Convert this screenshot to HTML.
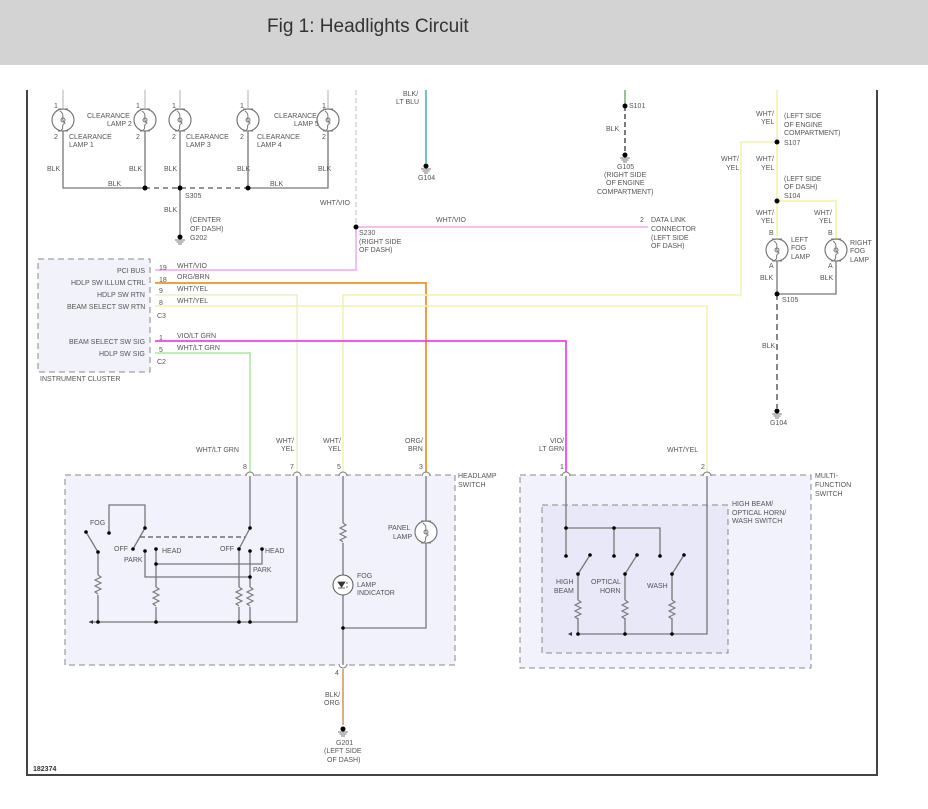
<!DOCTYPE html>
<html><head><meta charset="utf-8"><style>
html,body{margin:0;padding:0;background:#fff;width:928px;height:809px;overflow:hidden}
svg{display:block}
text{font-family:"Liberation Sans",sans-serif;font-size:7px;fill:#555}
.w{fill:none;stroke:#777;stroke-width:1.3}
.d{fill:#000}
</style></head><body>
<svg width="928" height="809" viewBox="0 0 928 809" xmlns="http://www.w3.org/2000/svg">
<defs>
<g id="lamp"><circle r="11" fill="#fff" stroke="#777" stroke-width="1.2"/><path d="M-3,-9 C3,-5 -3,0 2,3 C-3,6 2,8 -2,10" fill="none" stroke="#777"/><circle r="2" fill="none" stroke="#777"/><path d="M-5,-11 h10 M-5,11 h10" stroke="#777"/></g>
<g id="gnd"><circle r="2.5" fill="#000"/><path d="M-5,3 h10 M-3.5,5 h7 M-2,7 h4" stroke="#777"/></g>
<path id="res" d="M0,0 l3,2 l-6,3 l6,3 l-6,3 l6,3 l-6,3 l3,2" fill="none" stroke="#777" stroke-width="1.1"/>
</defs>
<rect x="0" y="0" width="928" height="65" fill="#d3d3d3"/>
<text x="267" y="32" style="font-size:19px;fill:#333">Fig 1: Headlights Circuit</text>
<path d="M27,90 V775 H877 V90" fill="none" stroke="#444" stroke-width="2"/>
<text x="33" y="771" style="font-size:7px;fill:#333;font-weight:bold">182374</text>

<!-- boxes -->
<rect x="38" y="259" width="112" height="113" fill="#f2f2fb" stroke="#888" stroke-dasharray="6,4"/>
<rect x="65" y="475" width="390" height="190" fill="#f2f2fc" stroke="#888" stroke-dasharray="6,4"/>
<rect x="520" y="475" width="291" height="193" fill="#f2f2fc" stroke="#888" stroke-dasharray="6,4"/>
<rect x="542" y="505" width="186" height="148" fill="#e8e8f8" stroke="#888" stroke-dasharray="6,4"/>

<!-- clearance lamps -->
<g stroke="#ccc" stroke-width="1.5"><path d="M63,90V108M145,90V108M180,90V108M248,90V108M328,90V108"/></g>
<g class="w"><path d="M63,131V188H145M145,131V188M180,131V237M248,131V188M248,188H328V131"/></g>
<path d="M145,188H248" stroke="#555" stroke-width="1.3" stroke-dasharray="5,4"/>
<use href="#lamp" x="63" y="120"/><use href="#lamp" x="145" y="120"/><use href="#lamp" x="180" y="120"/><use href="#lamp" x="248" y="120"/><use href="#lamp" x="328" y="120"/>
<circle class="d" cx="145" cy="188" r="2.5"/><circle class="d" cx="180" cy="188" r="2.5"/><circle class="d" cx="248" cy="188" r="2.5"/>
<use href="#gnd" x="180" y="237"/>
<text x="54" y="108">1</text><text x="54" y="139">2</text><text x="69" y="139">CLEARANCE</text><text x="69" y="147">LAMP 1</text>
<text x="87" y="118">CLEARANCE</text><text x="107" y="126">LAMP 2</text><text x="136" y="108">1</text><text x="136" y="139">2</text>
<text x="172" y="108">1</text><text x="172" y="139">2</text><text x="186" y="139">CLEARANCE</text><text x="186" y="147">LAMP 3</text>
<text x="240" y="108">1</text><text x="240" y="139">2</text><text x="257" y="139">CLEARANCE</text><text x="257" y="147">LAMP 4</text>
<text x="274" y="118">CLEARANCE</text><text x="294" y="126">LAMP 5</text><text x="322" y="108">1</text><text x="322" y="139">2</text>
<text x="47" y="171">BLK</text><text x="129" y="171">BLK</text><text x="164" y="171">BLK</text><text x="237" y="171">BLK</text><text x="318" y="171">BLK</text>
<text x="108" y="186">BLK</text><text x="270" y="186">BLK</text><text x="185" y="198">S305</text><text x="164" y="212">BLK</text>
<text x="190" y="222">(CENTER</text><text x="190" y="231">OF DASH)</text><text x="190" y="240">G202</text>

<!-- S230 / pink -->
<path d="M356,90V227" stroke="#ccc" stroke-width="1.3" stroke-dasharray="5,3"/>
<path d="M356,227H648M356,227V270H155" fill="none" stroke="#f0a8ee" stroke-width="1.5"/>
<circle class="d" cx="356" cy="227" r="2.5"/>
<text x="320" y="205">WHT/VIO</text><text x="359" y="235">S230</text><text x="359" y="244">(RIGHT SIDE</text><text x="359" y="252">OF DASH)</text>
<text x="436" y="222">WHT/VIO</text><text x="640" y="222">2</text><text x="651" y="222">DATA LINK</text><text x="651" y="231">CONNECTOR</text><text x="651" y="240">(LEFT SIDE</text><text x="651" y="248">OF DASH)</text>

<!-- teal G104 -->
<path d="M426,90V163" stroke="#4aacaa" stroke-width="1.5"/><use href="#gnd" x="426" y="166"/>
<text x="403" y="96">BLK/</text><text x="396" y="104">LT BLU</text><text x="418" y="180">G104</text>
<!-- S101 -->
<path d="M625,90V106" stroke="#6a9a6a" stroke-width="1.3"/><path d="M625,106V158" stroke="#333" stroke-width="1.3" stroke-dasharray="5,3"/>
<circle class="d" cx="625" cy="106" r="2.5"/><use href="#gnd" x="625" y="155"/>
<text x="629" y="108">S101</text><text x="606" y="131">BLK</text><text x="617" y="169">G105</text><text x="604" y="177">(RIGHT SIDE</text><text x="606" y="185">OF ENGINE</text><text x="597" y="194">COMPARTMENT)</text>

<!-- cluster wires -->
<path d="M155,283H426V475" fill="none" stroke="#f0a040" stroke-width="2"/>
<path d="M155,295H297V475" fill="none" stroke="#eeeec8" stroke-width="1.5"/>
<path d="M343,475V295H741V142H777" fill="none" stroke="#f2f2b0" stroke-width="1.5"/>
<path d="M155,306H707V475" fill="none" stroke="#f2f2b0" stroke-width="1.5"/>
<path d="M155,341H566V475" fill="none" stroke="#f020f0" stroke-width="1.5"/>
<path d="M155,353H250V475" fill="none" stroke="#a8e898" stroke-width="1.5"/>
<g style="font-size:6.5px"><text x="117" y="273">PCI BUS</text><text x="71" y="285">HDLP SW ILLUM CTRL</text><text x="97" y="297">HDLP SW RTN</text><text x="67" y="309">BEAM SELECT SW RTN</text>
<text x="69" y="344">BEAM SELECT SW SIG</text><text x="99" y="356">HDLP SW SIG</text><text x="40" y="381">INSTRUMENT CLUSTER</text>
<text x="159" y="270">19</text><text x="159" y="282">18</text><text x="159" y="293">9</text><text x="159" y="305">8</text><text x="157" y="318">C3</text>
<text x="159" y="340">1</text><text x="159" y="352">5</text><text x="157" y="364">C2</text>
<text x="177" y="268">WHT/VIO</text><text x="177" y="279">ORG/BRN</text><text x="177" y="291">WHT/YEL</text><text x="177" y="303">WHT/YEL</text>
<text x="177" y="338">VIO/LT GRN</text><text x="177" y="350">WHT/LT GRN</text></g>

<!-- right fog side -->
<path d="M777,90V236M777,201H836V239" fill="none" stroke="#f2f2a0" stroke-width="1.5"/>
<use href="#lamp" x="777" y="250"/><use href="#lamp" x="836" y="250"/>
<path d="M777,261V294H836V261" class="w"/>
<path d="M777,294V408" stroke="#444" stroke-width="1.3" stroke-dasharray="6,4"/>
<circle class="d" cx="777" cy="142" r="2.5"/><circle class="d" cx="777" cy="201" r="2.5"/><circle class="d" cx="777" cy="294" r="2.5"/>
<use href="#gnd" x="777" y="411"/>
<text x="756" y="116">WHT/</text><text x="761" y="124">YEL</text><text x="784" y="118">(LEFT SIDE</text><text x="784" y="127">OF ENGINE</text><text x="784" y="135">COMPARTMENT)</text><text x="784" y="145">S107</text>
<text x="721" y="161">WHT/</text><text x="726" y="170">YEL</text><text x="756" y="161">WHT/</text><text x="761" y="170">YEL</text>
<text x="784" y="181">(LEFT SIDE</text><text x="784" y="189">OF DASH)</text><text x="784" y="198">S104</text>
<text x="756" y="215">WHT/</text><text x="761" y="223">YEL</text><text x="814" y="215">WHT/</text><text x="819" y="223">YEL</text>
<text x="769" y="235">B</text><text x="828" y="235">B</text><text x="769" y="268">A</text><text x="828" y="268">A</text>
<text x="791" y="242">LEFT</text><text x="791" y="250">FOG</text><text x="791" y="259">LAMP</text><text x="850" y="245">RIGHT</text><text x="850" y="253">FOG</text><text x="850" y="262">LAMP</text>
<text x="760" y="280">BLK</text><text x="820" y="280">BLK</text><text x="782" y="302">S105</text><text x="762" y="348">BLK</text><text x="770" y="425">G104</text>

<!-- headlamp switch labels -->
<text x="196" y="452">WHT/LT GRN</text><text x="276" y="443">WHT/</text><text x="281" y="451">YEL</text><text x="323" y="443">WHT/</text><text x="328" y="451">YEL</text>
<text x="405" y="443">ORG/</text><text x="408" y="451">BRN</text>
<text x="243" y="469">8</text><text x="290" y="469">7</text><text x="337" y="469">5</text><text x="419" y="469">3</text>
<text x="458" y="478">HEADLAMP</text><text x="458" y="487">SWITCH</text>
<g fill="#fff" stroke="#777"><path d="M246,476a4,4 0 0 1 8,0M293,476a4,4 0 0 1 8,0M339,476a4,4 0 0 1 8,0M422,476a4,4 0 0 1 8,0M339,664a4,4 0 0 0 8,0M562,476a4,4 0 0 1 8,0M703,476a4,4 0 0 1 8,0"/></g>
<!-- headlamp switch internals -->
<g class="w">
<path d="M250,476V528M250,528L239,549M239,549V587M239,607V622"/>
<path d="M297,476V622H89"/>
<path d="M109,533V505H145V528M145,528L133,549"/>
<path d="M86,532L98,552V575M98,595V622"/>
<path d="M145,551V577H250M250,551V587M250,607V622"/>
<path d="M156,549V587M156,607V622M156,564H262V549"/>
<path d="M343,476V523M343,543V575M343,595V665M343,628H426V543M426,521V476"/>
</g>
<path d="M140,537H245" stroke="#555" stroke-width="1.3" stroke-dasharray="5,3"/>
<use href="#res" x="98" y="575"/><use href="#res" x="156" y="587"/><use href="#res" x="239" y="587"/><use href="#res" x="250" y="587"/><use href="#res" x="343" y="523"/>
<path d="M89,622l4,-2v4z" fill="#333"/>
<g class="d"><circle cx="109" cy="533" r="1.8"/><circle cx="145" cy="528" r="1.8"/><circle cx="86" cy="532" r="1.8"/><circle cx="98" cy="552" r="1.8"/><circle cx="133" cy="549" r="1.8"/><circle cx="145" cy="551" r="1.8"/><circle cx="156" cy="549" r="1.8"/><circle cx="156" cy="564" r="1.8"/><circle cx="262" cy="549" r="1.8"/><circle cx="250" cy="528" r="1.8"/><circle cx="239" cy="549" r="1.8"/><circle cx="250" cy="551" r="1.8"/><circle cx="250" cy="577" r="1.8"/><circle cx="98" cy="622" r="1.8"/><circle cx="156" cy="622" r="1.8"/><circle cx="239" cy="622" r="1.8"/><circle cx="250" cy="622" r="1.8"/><circle cx="343" cy="628" r="1.8"/></g>
<use href="#lamp" x="426" y="532"/>
<circle cx="343" cy="585" r="10" fill="#fff" stroke="#555"/><path d="M338,582h7l-3.5,5zM338,588h7M346,583h2M346,587h2" fill="#333" stroke="#333" stroke-width="0.8"/>
<text x="90" y="525">FOG</text><text x="114" y="551">OFF</text><text x="124" y="562">PARK</text><text x="162" y="553">HEAD</text>
<text x="220" y="551">OFF</text><text x="265" y="553">HEAD</text><text x="253" y="572">PARK</text>
<text x="388" y="530">PANEL</text><text x="393" y="539">LAMP</text><text x="357" y="578">FOG</text><text x="357" y="587">LAMP</text><text x="357" y="595">INDICATOR</text>
<!-- bottom G201 -->
<path d="M343,669V725" stroke="#c89858" stroke-width="1.5"/><use href="#gnd" x="343" y="729"/>
<text x="335" y="675">4</text><text x="325" y="697">BLK/</text><text x="324" y="705">ORG</text><text x="336" y="745">G201</text><text x="324" y="753">(LEFT SIDE</text><text x="327" y="762">OF DASH)</text>

<!-- multifunction -->
<text x="550" y="443">VIO/</text><text x="539" y="451">LT GRN</text><text x="667" y="452">WHT/YEL</text><text x="560" y="469">1</text><text x="701" y="469">2</text>
<text x="815" y="478">MULTI-</text><text x="815" y="487">FUNCTION</text><text x="815" y="496">SWITCH</text>
<text x="732" y="506">HIGH BEAM/</text><text x="732" y="515">OPTICAL HORN/</text><text x="732" y="523">WASH SWITCH</text>
<g class="w"><path d="M566,476V556M566,528H660V556M614,528V556M707,476V634H578"/>
<path d="M578,574L590,555M578,574V600M578,618V634M625,574L637,555M625,574V600M625,618V634M672,574L684,555M672,574V600M672,618V634"/></g>
<use href="#res" x="578" y="600"/><use href="#res" x="625" y="600"/><use href="#res" x="672" y="600"/>
<path d="M568,634l4,-2v4z" fill="#333"/>
<g class="d"><circle cx="566" cy="528" r="1.8"/><circle cx="614" cy="528" r="1.8"/><circle cx="566" cy="556" r="1.8"/><circle cx="614" cy="556" r="1.8"/><circle cx="660" cy="556" r="1.8"/><circle cx="590" cy="555" r="1.8"/><circle cx="637" cy="555" r="1.8"/><circle cx="684" cy="555" r="1.8"/><circle cx="578" cy="574" r="1.8"/><circle cx="625" cy="574" r="1.8"/><circle cx="672" cy="574" r="1.8"/><circle cx="578" cy="634" r="1.8"/><circle cx="625" cy="634" r="1.8"/><circle cx="672" cy="634" r="1.8"/></g>
<text x="556" y="584">HIGH</text><text x="554" y="593">BEAM</text><text x="591" y="584">OPTICAL</text><text x="600" y="593">HORN</text><text x="647" y="588">WASH</text>
</svg>
</body></html>
